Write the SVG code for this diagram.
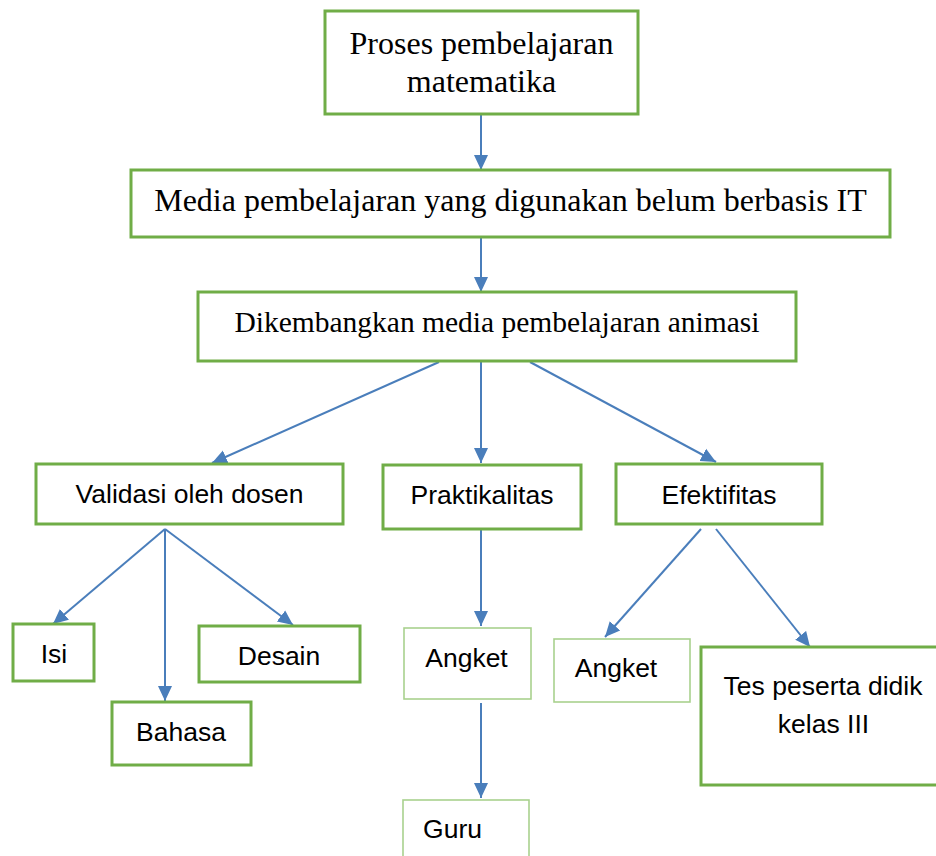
<svg xmlns="http://www.w3.org/2000/svg" width="936" height="856" viewBox="0 0 936 856">
<defs>
<marker id="ah" markerUnits="userSpaceOnUse" markerWidth="16" markerHeight="16" viewBox="0 0 16 16" refX="15" refY="8" orient="auto">
<path d="M0,1 L15,8 L0,15 Z" fill="#4A7EBB"/>
</marker>
<style>
.bx{fill:#fff;stroke:#70AD47;stroke-width:3}
.bt{fill:#fff;stroke:#A9D18E;stroke-width:1.6}
.sr{font-family:"Liberation Serif","Times New Roman",serif;fill:#000;text-anchor:middle}
.ss{font-family:"Liberation Sans",Arial,sans-serif;font-size:26.5px;fill:#000;text-anchor:middle}
.cn{stroke:#4A7EBB;stroke-width:2;fill:none;marker-end:url(#ah)}
</style>
</defs>
<rect width="936" height="856" fill="#fff"/>
<g id="connectors">
<line class="cn" x1="481" y1="114" x2="481" y2="170"/>
<line class="cn" x1="481" y1="237" x2="481" y2="292"/>
<line class="cn" x1="439" y1="362" x2="212" y2="463"/>
<line class="cn" x1="481" y1="362" x2="481" y2="463"/>
<line class="cn" x1="530" y1="362" x2="716" y2="462"/>
<line class="cn" x1="165" y1="529" x2="53" y2="624"/>
<line class="cn" x1="165" y1="529" x2="165" y2="701"/>
<line class="cn" x1="165" y1="529" x2="293" y2="625"/>
<line class="cn" x1="481" y1="529" x2="481" y2="626"/>
<line class="cn" x1="481" y1="703" x2="481" y2="798"/>
<line class="cn" x1="701" y1="529" x2="605" y2="637"/>
<line class="cn" x1="716" y1="529" x2="810" y2="647"/>
</g>
<g id="proses">
<rect class="bx" x="325" y="11" width="313" height="103"/>
<text class="sr" x="481.5" y="54" font-size="32">Proses pembelajaran</text>
<text class="sr" x="481.5" y="92" font-size="32">matematika</text>
</g>
<g id="media">
<rect class="bx" x="131" y="170" width="759" height="67"/>
<text class="sr" x="510.5" y="211" font-size="32">Media pembelajaran yang digunakan belum berbasis IT</text>
</g>
<g id="dikembangkan">
<rect class="bx" x="198" y="292" width="598" height="69"/>
<text class="sr" x="497" y="332" font-size="29.5">Dikembangkan media pembelajaran animasi</text>
</g>
<g id="validasi">
<rect class="bx" x="36" y="464" width="307" height="60"/>
<text class="ss" x="189.5" y="503">Validasi oleh dosen</text>
</g>
<g id="praktikalitas">
<rect class="bx" x="383" y="465" width="198" height="64"/>
<text class="ss" x="482" y="504">Praktikalitas</text>
</g>
<g id="efektifitas">
<rect class="bx" x="616" y="464" width="206" height="60"/>
<text class="ss" x="719" y="504">Efektifitas</text>
</g>
<g id="isi">
<rect class="bx" x="13" y="624" width="81" height="57"/>
<text class="ss" x="54" y="663">Isi</text>
</g>
<g id="bahasa">
<rect class="bx" x="112" y="702" width="139" height="63"/>
<text class="ss" x="181" y="741">Bahasa</text>
</g>
<g id="desain">
<rect class="bx" x="199" y="626" width="161" height="56"/>
<text class="ss" x="279" y="665">Desain</text>
</g>
<g id="angket1">
<rect class="bt" x="404" y="628" width="127" height="71"/>
<text class="ss" x="466.5" y="667">Angket</text>
</g>
<g id="guru">
<rect class="bt" x="403" y="800" width="126" height="60"/>
<text class="ss" x="452.5" y="838">Guru</text>
</g>
<g id="angket2">
<rect class="bt" x="554" y="639" width="136" height="63"/>
<text class="ss" x="616" y="677">Angket</text>
</g>
<g id="tes">
<rect class="bx" x="701" y="647" width="245" height="138"/>
<text class="ss" x="823" y="695">Tes peserta didik</text>
<text class="ss" x="823.5" y="733">kelas III</text>
</g>
</svg>
